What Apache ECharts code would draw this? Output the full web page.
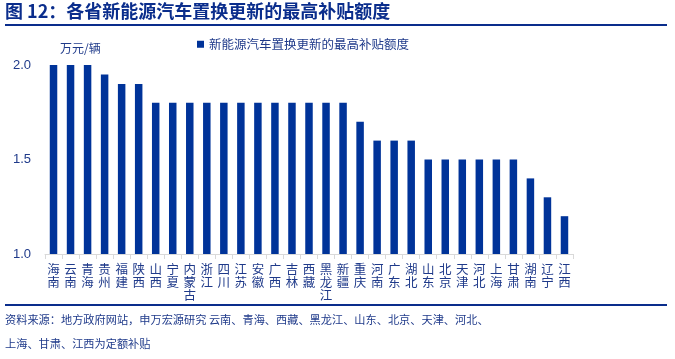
<!DOCTYPE html>
<html><head><meta charset="utf-8">
<script src="https://cdn.jsdelivr.net/npm/echarts@6/dist/echarts.min.js"></script>
<style>html,body{margin:0;padding:0;background:#fff}#c{width:675px;height:359px}</style>
</head><body><div id="c"></div>
<script>
const categories = ['海南','云南','青海','贵州','福建','陕西','山西','宁夏','内蒙古','浙江','四川','江苏','安徽','广西','吉林','西藏','黑龙江','新疆','重庆','河南','广东','湖北','山东','北京','天津','河北','上海','甘肃','湖南','辽宁','江西'];
const values = [2.0,2.0,2.0,1.95,1.9,1.9,1.8,1.8,1.8,1.8,1.8,1.8,1.8,1.8,1.8,1.8,1.8,1.8,1.7,1.6,1.6,1.6,1.5,1.5,1.5,1.5,1.5,1.5,1.4,1.3,1.2];
const seriesName = '新能源汽车置换更新的最高补贴额度';
const titleText = '图 12：各省新能源汽车置换更新的最高补贴额度';
const unitText = '万元/辆';
const sourceLines = ['资料来源：地方政府网站，申万宏源研究 云南、青海、西藏、黑龙江、山东、北京、天津、河北、','上海、甘肃、江西为定额补贴'];
const font = '"Noto Sans CJK SC", sans-serif';
const navy = '#0a2d8c';
const txt = '#1f3a8a';
const chart = echarts.init(document.getElementById('c'));
chart.setOption({
  animation:false,
  grid:{left:45,right:102,top:65,bottom:105},
  legend:{show:true,left:192,top:33,itemWidth:7,itemHeight:7,icon:'rect',itemGap:5,
    textStyle:{fontFamily:font,fontSize:12.5,color:txt},data:[seriesName]},
  xAxis:{type:'category',data:categories,
    axisLine:{lineStyle:{color:'#d9d9d9'}},
    axisTick:{show:true,length:5,lineStyle:{color:'#d9d9d9'}},
    axisLabel:{interval:0,margin:9,fontFamily:font,fontSize:12.5,lineHeight:13,color:txt,
      formatter:v=>v.split('').join('\n')}},
  yAxis:{type:'value',min:1.0,max:2.0,interval:0.5,
    splitLine:{show:false},
    axisLine:{show:false},axisTick:{show:false},
    axisLabel:{margin:14,fontFamily:'"Liberation Sans", Arial, sans-serif',fontSize:13,color:txt,
      formatter:v=>v.toFixed(1)}},
  series:[{name:seriesName,type:'bar',data:values,barWidth:'44%',itemStyle:{color:'#003399'}}],
  graphic:[
    {type:'text',left:5,top:2,style:{text:titleText,font:'bold 18px '+font,fill:navy}},
    {type:'rect',shape:{x:5,y:24,width:662,height:2},style:{fill:navy}},
    {type:'text',left:60,top:42,style:{text:unitText,font:'12px '+font,fill:txt}},
    {type:'rect',shape:{x:5,y:304,width:662,height:2},style:{fill:navy}},
    {type:'text',left:5,top:314,style:{text:sourceLines[0],font:'11.2px '+font,fill:txt}},
    {type:'text',left:5,top:338,style:{text:sourceLines[1],font:'11.2px '+font,fill:txt}}
  ]
});
</script></body></html>
